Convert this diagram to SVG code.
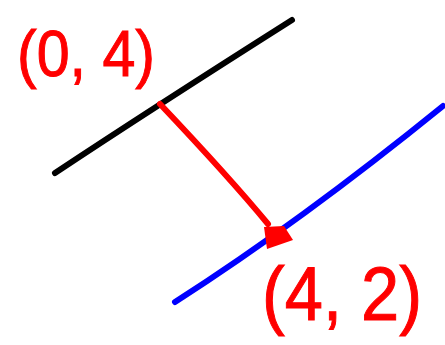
<svg xmlns="http://www.w3.org/2000/svg" width="445" height="345" viewBox="0 0 445 345">
<style>
.ln{fill:none;stroke-width:6;stroke-linecap:round;stroke-linejoin:round}
.lbl{font-family:"Liberation Sans",Arial,sans-serif;fill:#ff0000;stroke:#ff0000;stroke-width:1}
</style>
<rect width="445" height="345" fill="#ffffff"/>
<g id="lines">
<path id="black-line" class="ln" stroke="#000000" d="M55,173 Q150,110 292,20"/>
<path id="blue-line" class="ln" stroke="#0000ff" d="M175,302 Q300,222 443,106"/>
</g>
<g id="connectors">
<path id="red-connector" class="ln" stroke="#ff0000" d="M160,104 Q230,178 268,224"/>
<polygon points="264,227 284,226 293,240 267,249" fill="#ff0000"/>
</g>
<g id="label-a">
<text class="lbl" x="17" y="76" font-size="64" textLength="138" lengthAdjust="spacingAndGlyphs">(0, 4)</text>
</g>
<g id="label-b">
<text class="lbl" x="262" y="320" font-size="76" textLength="160" lengthAdjust="spacingAndGlyphs">(4, 2)</text>
</g>
</svg>
